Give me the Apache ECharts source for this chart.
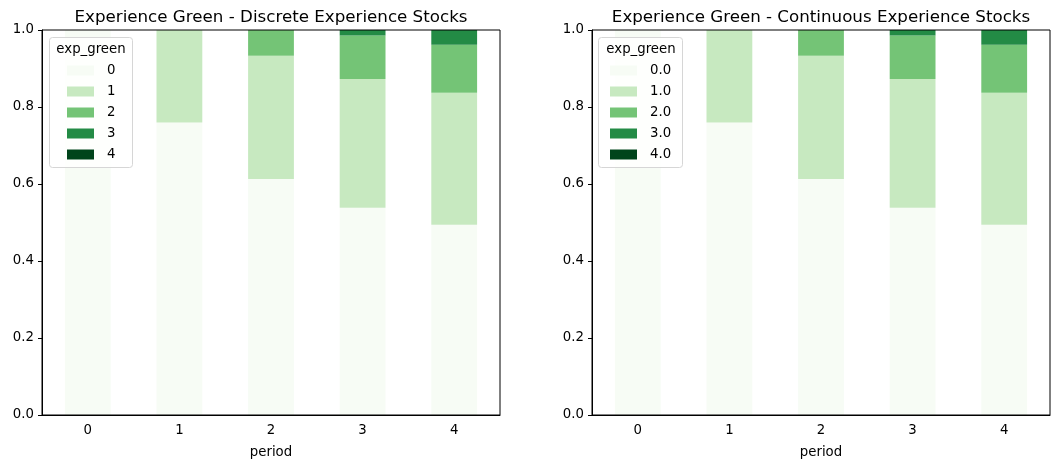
<!DOCTYPE html>
<html>
<head>
<meta charset="utf-8">
<script src="https://cdn.jsdelivr.net/npm/echarts@6/dist/echarts.min.js"></script>
<style>
  html, body { margin: 0; padding: 0; background: #fff; }
  #chart { width: 1059px; height: 468px; }
</style>
</head>
<body>
<div id="chart"></div>
<script>
// data (share of agents per experience level)
const periods = ['0', '1', '2', '3', '4'];
const levelsDiscrete = ['0', '1', '2', '3', '4'];
const levelsContinuous = ['0.0', '1.0', '2.0', '3.0', '4.0'];
const share0 = [1.0, 0.76, 0.613, 0.538, 0.494];
const share1 = [0, 0.24, 0.32, 0.335, 0.343];
const share2 = [0, 0, 0.067, 0.113, 0.125];
const share3 = [0, 0, 0, 0.014, 0.038];
const share4 = [0, 0, 0, 0, 0];
const yTicks = [0, 0.2, 0.4, 0.6, 0.8, 1.0];

const greens = ['#f7fcf5', '#c7e9c0', '#74c476', '#238b45', '#00441b'];
const shares = [share0, share1, share2, share3, share4];
const font = 'DejaVu Sans';
const fs = 13.3;

const myChart = echarts.init(document.getElementById('chart'), null, { renderer: 'canvas' });

function makeSeries(names, idx) {
    let arr = [];
    for (const i in names) {
        arr.push({
            name: names[i],
            type: 'bar',
            stack: 'p' + idx,
            xAxisIndex: idx,
            yAxisIndex: idx,
            barWidth: '50%',
            z: 2,
            itemStyle: { color: greens[i] },
            emphasis: { disabled: true },
            data: shares[i],
        });
    }
    return arr;
}

function axisPair(idx) {
    const x = {
        type: 'category',
        gridIndex: idx,
        z: 6,
        data: periods,
        name: 'period',
        nameLocation: 'middle',
        nameGap: 31,
        nameTextStyle: { color: '#000', fontFamily: font, fontSize: fs },
        axisLine: { lineStyle: { color: '#000', width: 1 } },
        axisTick: { alignWithLabel: true, length: 4, lineStyle: { color: '#000' } },
        axisLabel: { color: '#000', fontFamily: font, fontSize: fs, margin: 9 },
    };
    const y = {
        type: 'value',
        gridIndex: idx,
        z: 6,
        min: 0,
        max: 1,
        interval: 0.2,
        splitLine: { show: false },
        axisLine: { show: true, lineStyle: { color: '#000', width: 1 } },
        axisTick: { show: true, length: 4, lineStyle: { color: '#000' } },
        axisLabel: {
            color: '#000', fontFamily: font, fontSize: fs, margin: 8,
            formatter: v => yTicks.indexOf(Math.round(v * 10) / 10) >= 0 ? v.toFixed(1) : ''
        },
    };
    return [x, y];
}

const ax0 = axisPair(0);
const ax1 = axisPair(1);

const legendBase = {
    orient: 'vertical',
    z: 10,
    itemWidth: 27,
    itemHeight: 10,
    itemGap: 8,
    padding: 0,
    icon: 'rect',
    selectedMode: false,
    textStyle: { color: '#000', fontFamily: font, fontSize: fs, padding: [0, 0, 0, 8] },
};

const titleStyle = { color: '#000', fontFamily: font, fontSize: 16.7, fontWeight: 'normal' };

const option = {
    animation: false,
    backgroundColor: '#fff',
    title: [
        { text: 'Experience Green - Discrete Experience Stocks', left: 271, top: 9, textAlign: 'center', padding: 0, textStyle: titleStyle },
        { text: 'Experience Green - Continuous Experience Stocks', left: 821, top: 9, textAlign: 'center', padding: 0, textStyle: titleStyle },
    ],
    grid: [
        { left: 42, right: 559, top: 30, bottom: 53, show: true, z: 6, borderColor: '#000', borderWidth: 1, backgroundColor: 'transparent' },
        { left: 592, right: 9, top: 30, bottom: 53, show: true, z: 6, borderColor: '#000', borderWidth: 1, backgroundColor: 'transparent' },
    ],
    xAxis: [ax0[0], ax1[0]],
    yAxis: [ax0[1], ax1[1]],
    legend: [
        Object.assign({}, legendBase, { data: levelsDiscrete, left: 67, top: 64 }),
        Object.assign({}, legendBase, { data: levelsContinuous, left: 610, top: 64 }),
    ],
    graphic: [
        { type: 'rect', z: 7, shape: { x: 49.5, y: 37.5, width: 83, height: 130, r: 3 },
          style: { fill: 'rgba(255,255,255,0.8)', stroke: '#d6d6d6', lineWidth: 1 } },
        { type: 'text', z: 11, x: 91, y: 50,
          style: { text: 'exp_green', fill: '#000', font: '13.3px "DejaVu Sans"', align: 'center', verticalAlign: 'middle' } },
        { type: 'rect', z: 7, shape: { x: 598.5, y: 37.5, width: 84, height: 130, r: 3 },
          style: { fill: 'rgba(255,255,255,0.8)', stroke: '#d6d6d6', lineWidth: 1 } },
        { type: 'text', z: 11, x: 641, y: 50,
          style: { text: 'exp_green', fill: '#000', font: '13.3px "DejaVu Sans"', align: 'center', verticalAlign: 'middle' } },
    ],
    series: makeSeries(levelsDiscrete, 0).concat(makeSeries(levelsContinuous, 1)),
};

myChart.setOption(option);
</script>
</body>
</html>
